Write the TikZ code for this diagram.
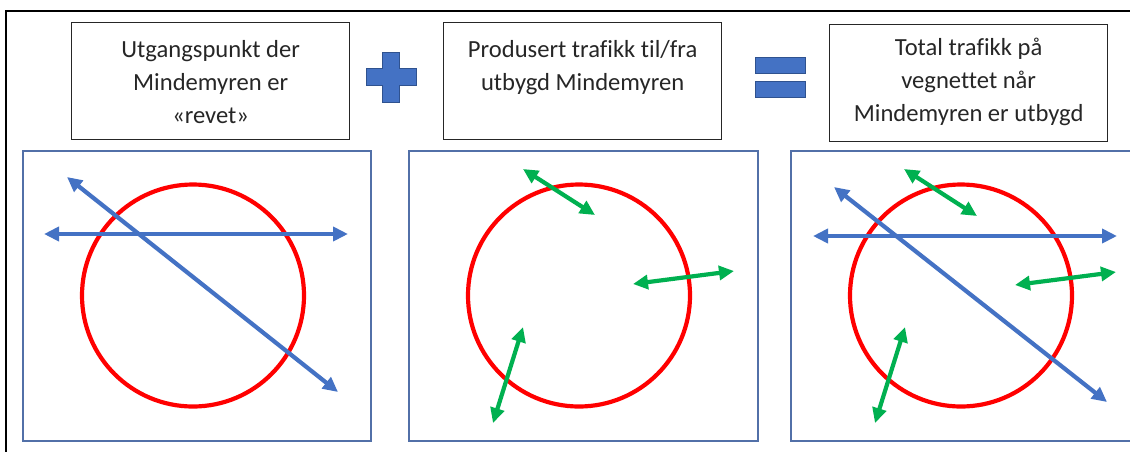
\documentclass[tikz,border=0pt]{standalone}
\usepackage{fontspec}
\setmainfont{Carlito}[Ligatures=NoCommon]
\usetikzlibrary{calc,arrows.meta}

\definecolor{roadblue}{RGB}{68,114,196}
\definecolor{signedge}{RGB}{47,82,143}
\definecolor{panelblue}{RGB}{82,112,168}
\definecolor{tripgreen}{RGB}{0,176,80}

\tikzset{
  textbox/.style={draw=black!85, line width=1.3pt, minimum width=278pt,
    minimum height=117pt, inner sep=0pt, anchor=north west},
  boxtext/.style={anchor=north, align=center, inner sep=0pt, text=black!85,
    font=\fontsize{24.6}{33}\selectfont},
  sign/.style={fill=roadblue, draw=signedge, line width=0.8pt},
  panel/.style={draw=panelblue, line width=1.3pt},
  zone/.style={draw=red, line width=4.2pt},
  road/.style={roadblue, line width=4.2pt, {Triangle[length=15pt,width=14pt]}-{Triangle[length=15pt,width=14pt]}},
  trip/.style={tripgreen, line width=4.2pt, {Triangle[length=15pt,width=14pt]}-{Triangle[length=15pt,width=14pt]}},
}

\begin{document}
\begin{tikzpicture}[x=1pt, y=-1pt]
  \useasboundingbox (0,0) rectangle (1130,451);

  % frame
  \draw[line width=2pt] (6,452) -- (6,11) -- (1131,11);

  % headings
  \node[textbox] (b1) at (71,22) {};
  \node[textbox] (b2) at (443,22) {};
  \node[textbox] (b3) at (829,24) {};
  \node[boxtext] at ($(b1.north)+(0,12)$) {\strut Utgangspunkt der\\Mindemyren er\\«revet»};
  \node[boxtext] at ($(b2.north)+(0,12)$) {\strut Produsert trafikk til/fra\\utbygd Mindemyren};
  \node[boxtext] at ($(b3.north)+(0,8)$) {\strut Total trafikk på\\vegnettet når\\Mindemyren er utbygd};

  % plus and equals
  \filldraw[sign] (382.5,52) -| (399.5,68.5) -| (416,85.5) -| (399.5,102)
    -| (382.5,85.5) -| (366,68.5) -| cycle;
  \filldraw[sign] (755,57) rectangle (805,73);
  \filldraw[sign] (755,81) rectangle (805,97);

  % existing traffic
  \begin{scope}[shift={(23,151)}]
    \draw[panel] (0,0) rectangle (348,290);
    \draw[zone] (170,144.5) circle[radius=111];
    \draw[road] (21,83) -- (325,83);
    \draw[road] (44,26) -- (315,241);
  \end{scope}

  % generated traffic
  \begin{scope}[shift={(409,151)}]
    \draw[panel] (0,0) rectangle (349,290);
    \draw[zone] (170,144.5) circle[radius=111];
    \draw[trip] (114,18) -- (186,64);
    \draw[trip] (224,133) -- (325,120);
    \draw[trip] (114,176) -- (84,272);
  \end{scope}

  % total traffic
  \begin{scope}[shift={(791,151)}]
    \draw[panel] (0,0) rectangle (348,290);
    \draw[zone] (170,144.5) circle[radius=111];
    \draw[road] (22,85) -- (326,85);
    \draw[road] (43,36) -- (316,251);
    \draw[trip] (113,18) -- (186,65);
    \draw[trip] (224,134) -- (325,121);
    \draw[trip] (114,176) -- (84,272);
  \end{scope}
\end{tikzpicture}
\end{document}
